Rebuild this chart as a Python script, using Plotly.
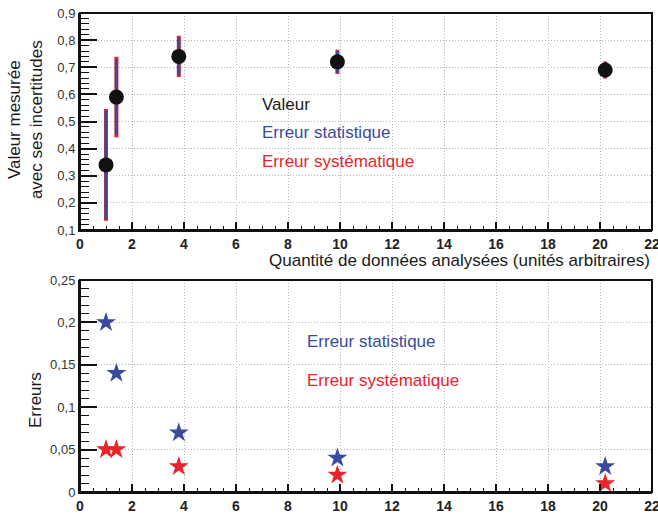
import plotly.graph_objects as go

x_vals = [1.0, 1.4, 3.8, 9.9, 20.2]
y_vals = [0.34, 0.59, 0.74, 0.72, 0.69]
err_stat = [0.20, 0.14, 0.07, 0.04, 0.03]
err_syst = [0.05, 0.05, 0.03, 0.02, 0.01]
err_tot = [(a * a + b * b) ** 0.5 for a, b in zip(err_stat, err_syst)]

BLUE = "#3a4b9d"
RED = "#e8252b"
FONT = "Liberation Sans, Arial, sans-serif"

fig = go.Figure()
fig.add_trace(go.Scatter(x=x_vals, y=y_vals, mode="markers",
                         marker=dict(size=1, color="rgba(0,0,0,0)"),
                         error_y=dict(type="data", array=err_tot, visible=True,
                                      color=RED, thickness=4, width=0),
                         xaxis="x", yaxis="y", showlegend=False, hoverinfo="skip"))
fig.add_trace(go.Scatter(x=x_vals, y=y_vals, mode="markers",
                         marker=dict(size=1, color="rgba(0,0,0,0)"),
                         error_y=dict(type="data", array=err_stat, visible=True,
                                      color=BLUE, thickness=3, width=0),
                         xaxis="x", yaxis="y", showlegend=False, hoverinfo="skip"))
fig.add_trace(go.Scatter(x=x_vals, y=y_vals, mode="markers",
                         marker=dict(size=15, color="#111111"),
                         xaxis="x", yaxis="y", showlegend=False))

fig.add_trace(go.Scatter(x=x_vals, y=err_stat, mode="markers",
                         marker=dict(symbol="star", size=15, color=BLUE),
                         xaxis="x2", yaxis="y2", showlegend=False))
fig.add_trace(go.Scatter(x=x_vals, y=err_syst, mode="markers",
                         marker=dict(symbol="star", size=15, color=RED),
                         xaxis="x2", yaxis="y2", showlegend=False))

grid = dict(showgrid=True, gridcolor="#b5b5b5", griddash="1px,2px", gridwidth=1,
            zeroline=False, showline=True, linecolor="#111111", linewidth=2,
            mirror=False, ticks="inside", tickcolor="#111111", tickwidth=1.5,
            automargin=False)

xcommon = dict(range=[0, 22.0001], dtick=2, tick0=0, ticklen=8, ticklabeloverflow="allow",
               minor=dict(dtick=0.5, ticklen=4, ticks="inside", tickcolor="#111111",
                          tickwidth=1, showgrid=False),
               tickfont=dict(family=FONT, size=14, color="#222222", weight=700), **grid)

fig.update_layout(
    width=658, height=515,
    margin=dict(l=80, r=6, t=13, b=23, autoexpand=False),
    paper_bgcolor="white", plot_bgcolor="white",
    font=dict(family=FONT),
    xaxis=dict(domain=[0, 1], anchor="y", **xcommon),
    yaxis=dict(domain=[0.547, 1], anchor="x", range=[0.1, 0.9001], dtick=0.1, tick0=0.1,
               ticklen=17,
               minor=dict(dtick=0.02, ticklen=9, ticks="inside", tickcolor="#111111",
                          tickwidth=1, showgrid=False),
               tickfont=dict(family=FONT, size=13, color="#333333"), **grid),
    xaxis2=dict(domain=[0, 1], anchor="y2", **xcommon),
    yaxis2=dict(domain=[0, 0.4426], anchor="x2", range=[0, 0.25001], dtick=0.05, tick0=0,
                ticklen=17,
                minor=dict(dtick=0.01, ticklen=9, ticks="inside", tickcolor="#111111",
                           tickwidth=1, showgrid=False),
                tickfont=dict(family=FONT, size=13, color="#333333"), **grid),
    separators=", ",
)

# frames around both panels
for xr, yr in (("x domain", "y domain"), ("x2 domain", "y2 domain")):
    fig.add_shape(type="rect", xref=xr, yref=yr, x0=0, x1=1, y0=0, y1=1,
                  line=dict(color="#111111", width=2), fillcolor="rgba(0,0,0,0)", layer="above")

ann = [
    dict(text="Valeur", x=6.92, y=0.561, xref="x", yref="y", color="#1a1a1a"),
    dict(text="Erreur statistique", x=6.92, y=0.458, xref="x", yref="y", color=BLUE),
    dict(text="Erreur systématique", x=6.92, y=0.354, xref="x", yref="y", color=RED),
    dict(text="Erreur statistique", x=8.65, y=0.177, xref="x2", yref="y2", color=BLUE),
    dict(text="Erreur systématique", x=8.65, y=0.131, xref="x2", yref="y2", color=RED),
]
for a in ann:
    fig.add_annotation(text=a["text"], x=a["x"], y=a["y"], xref=a["xref"], yref=a["yref"],
                       xanchor="left", yanchor="middle", showarrow=False,
                       font=dict(family=FONT, size=17, color=a["color"]))

fig.add_annotation(text="Quantité de données analysées (unités arbitraires)",
                   x=1, y=0.484, xref="paper", yref="paper", xanchor="right", yanchor="middle",
                   showarrow=False, font=dict(family=FONT, size=17, color="#1a1a1a"))
fig.add_annotation(text="Valeur mesurée<br>avec ses incertitudes",
                   x=-0.096, y=0.7766, xref="paper", yref="paper", textangle=-90,
                   xanchor="center", yanchor="middle", showarrow=False,
                   font=dict(family=FONT, size=17, color="#1a1a1a"))
fig.add_annotation(text="Erreurs",
                   x=-0.0787, y=0.192, xref="paper", yref="paper", textangle=-90,
                   xanchor="center", yanchor="middle", showarrow=False,
                   font=dict(family=FONT, size=17, color="#1a1a1a"))

fig.write_html("out.html", post_script="document.body.style.margin='0px';",
               config={"displayModeBar": False})
